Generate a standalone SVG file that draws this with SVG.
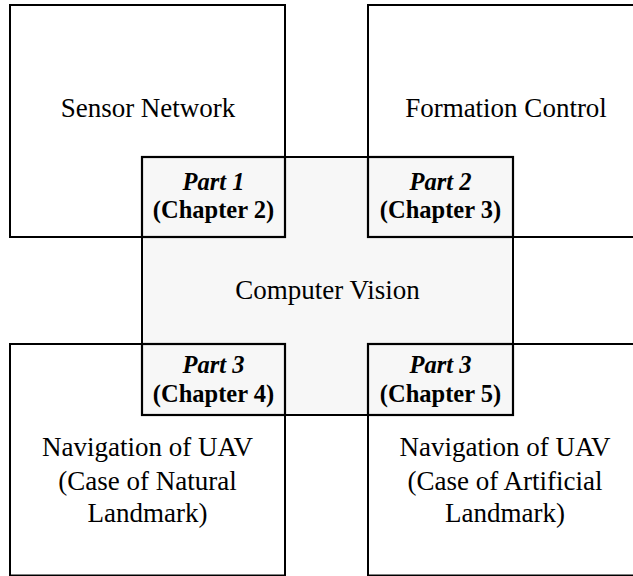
<svg xmlns="http://www.w3.org/2000/svg" width="633" height="576" viewBox="0 0 633 576">
<style>
.outer{fill:#ffffff;stroke:#000;stroke-width:2}
.center{fill:#f7f7f7;stroke:#000;stroke-width:2}
.part{fill:#f7f7f7;stroke:#000;stroke-width:2.2}
text{font-family:'Liberation Serif','Times New Roman','DejaVu Serif',serif;fill:#000;text-anchor:middle}
.t{font-size:27px}
.pi{font-size:24.5px;font-weight:bold;font-style:italic}
.pb{font-size:24.5px;font-weight:bold}
</style>
<rect width="633" height="576" fill="#fff"/>
<g id="sensor-network">
<rect class="outer" x="10" y="5" width="275" height="232"/>
<text class="t" x="148" y="117">Sensor Network</text>
</g>
<g id="formation-control">
<rect class="outer" x="368" y="5" width="278" height="232"/>
<text class="t" x="506" y="117">Formation Control</text>
</g>
<g id="nav-natural">
<rect class="outer" x="10" y="344" width="275" height="231.5"/>
<text class="t" x="147.5" y="456">Navigation of UAV</text>
<text class="t" x="147.5" y="490">(Case of Natural</text>
<text class="t" x="147.5" y="522">Landmark)</text>
</g>
<g id="nav-artificial">
<rect class="outer" x="368" y="344" width="278" height="231.5"/>
<text class="t" x="505" y="456">Navigation of UAV</text>
<text class="t" x="505" y="490">(Case of Artificial</text>
<text class="t" x="505" y="522">Landmark)</text>
</g>
<g id="computer-vision">
<rect class="center" x="142" y="157" width="371" height="258"/>
<text class="t" x="327.5" y="299">Computer Vision</text>
</g>
<g id="part1">
<rect class="part" x="142" y="157" width="143" height="80"/>
<text class="pi" x="213.5" y="190">Part 1</text>
<text class="pb" x="213.5" y="218">(Chapter 2)</text>
</g>
<g id="part2">
<rect class="part" x="368" y="157" width="145" height="80"/>
<text class="pi" x="440.5" y="190">Part 2</text>
<text class="pb" x="440.5" y="218">(Chapter 3)</text>
</g>
<g id="part3a">
<rect class="part" x="142" y="344" width="143" height="71"/>
<text class="pi" x="213.5" y="373">Part 3</text>
<text class="pb" x="213.5" y="402">(Chapter 4)</text>
</g>
<g id="part3b">
<rect class="part" x="368" y="344" width="145" height="71"/>
<text class="pi" x="440.5" y="373">Part 3</text>
<text class="pb" x="440.5" y="402">(Chapter 5)</text>
</g>
<g id="connectors"></g>
</svg>
